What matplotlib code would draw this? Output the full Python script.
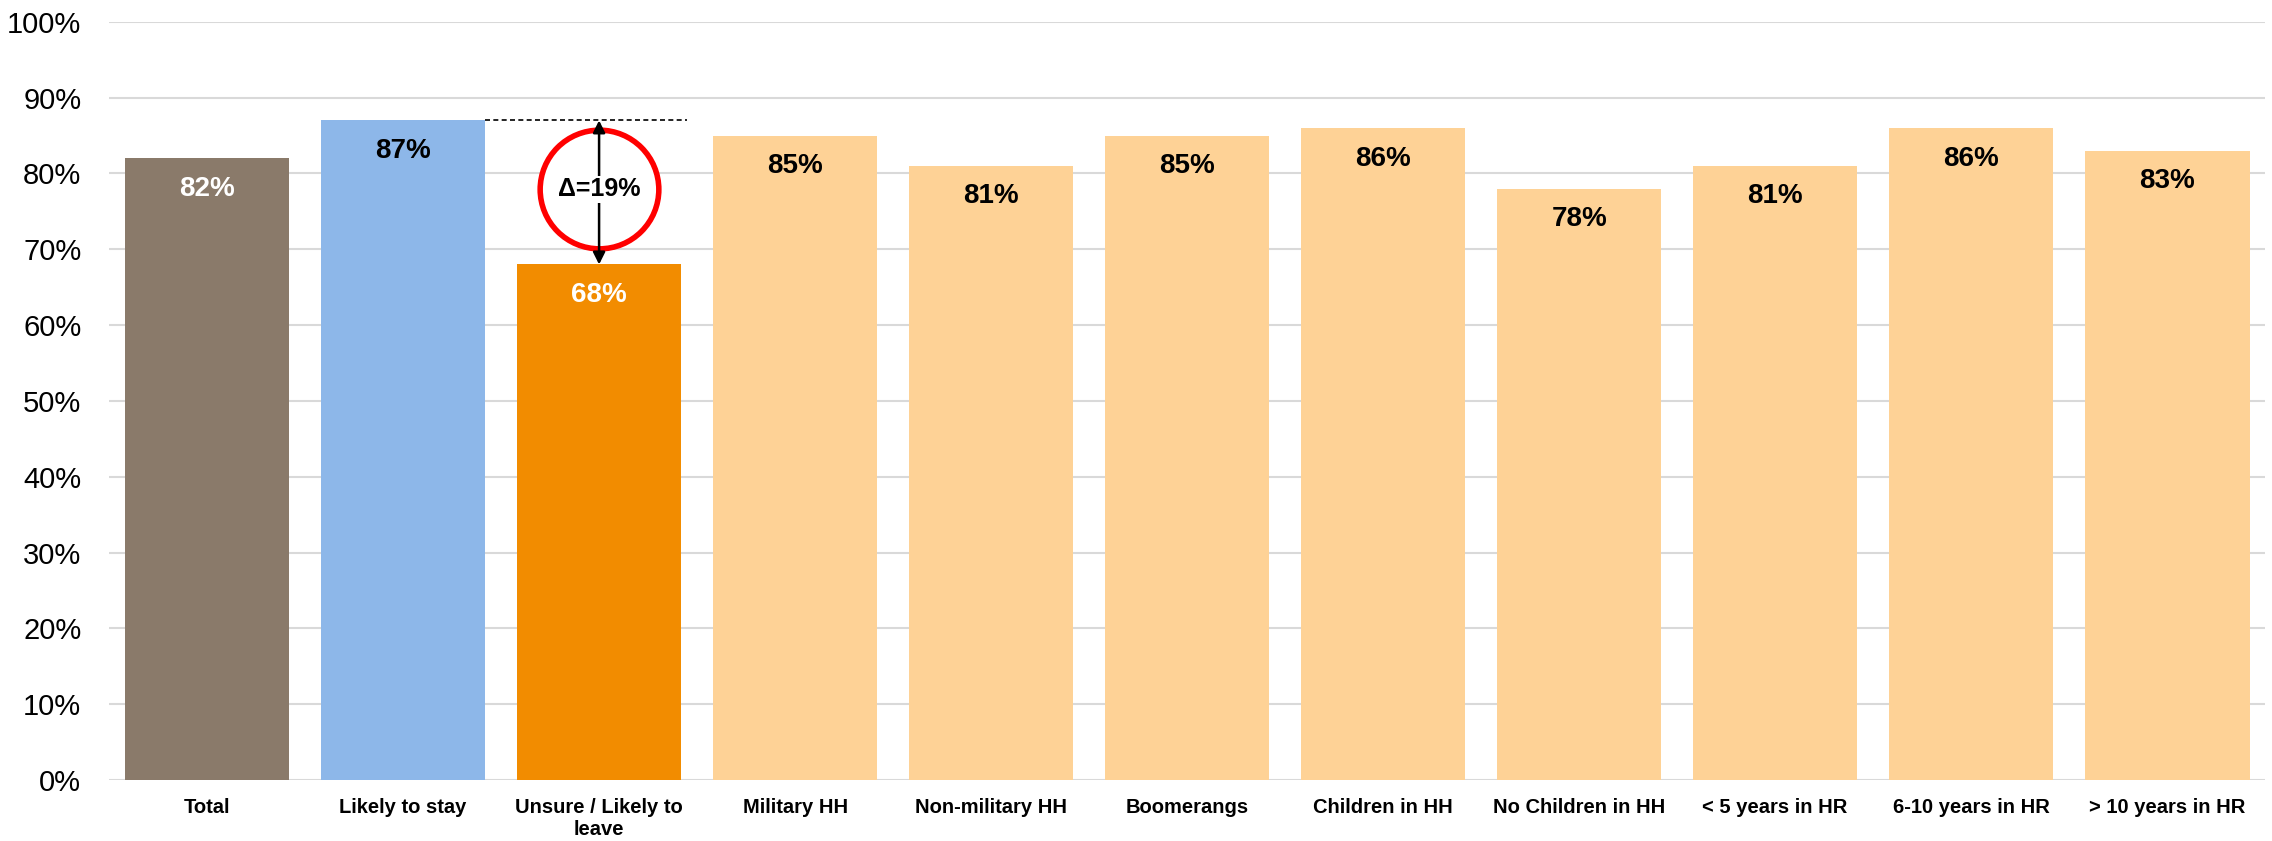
import matplotlib.pyplot as plt
from matplotlib.ticker import PercentFormatter

# survey groups and the share for each
categories = ["Total", "Likely to stay", "Unsure / Likely to\nleave", "Military HH",
              "Non-military HH", "Boomerangs", "Children in HH", "No Children in HH",
              "< 5 years in HR", "6-10 years in HR", "> 10 years in HR"]
values = [82, 87, 68, 85, 81, 85, 86, 78, 81, 86, 83]
bar_colors = ["#8A7A6A", "#8DB7E9", "#F28C00"] + ["#FED296"] * 8
label_colors = ["white", "black", "white"] + ["black"] * 8

plt.rcParams['font.family'] = ['Liberation Sans', 'DejaVu Sans']

fig = plt.figure(figsize=(22.72, 8.41), dpi=100)
ax = fig.add_axes([0.048, 0.0725, 0.949, 0.9015])

x = list(range(len(values)))
ax.bar(x, values, width=0.84, color=bar_colors, zorder=2)

for xi, v, c in zip(x, values, label_colors):
    ax.annotate(f"{v}%", (xi, v), xytext=(0, -22), textcoords="offset points",
                ha="center", va="center", fontsize=20, fontweight="bold", color=c, zorder=5)

# gap between stayers and leavers
stay, leave = values[1], values[2]
ax.plot([1.42, 2.45], [stay, stay], ls=(0, (3, 2)), color="black", lw=1.2, zorder=3)
ax.scatter([2], [(stay + leave) / 2 + 0.4], s=7300, facecolor="white",
           edgecolor="#FF0000", linewidth=4, zorder=3)
ax.annotate("", xy=(2, leave), xytext=(2, stay),
            arrowprops=dict(arrowstyle="<|-|>", color="black", lw=1.8,
                            mutation_scale=18, shrinkA=0, shrinkB=0), zorder=4)
ax.text(2, (stay + leave) / 2 + 0.4, f"Δ={stay - leave}%", ha="center", va="center",
        fontsize=18, fontweight="bold", zorder=5,
        bbox=dict(facecolor="white", edgecolor="none", pad=1))

ax.set_xlim(-0.5, 10.5)
ax.set_ylim(0, 100)
ax.set_yticks(range(0, 101, 10))
ax.yaxis.set_major_formatter(PercentFormatter(decimals=0))
ax.set_xticks(x)
ax.set_xticklabels(categories, fontsize=14.5, fontweight="bold")
ax.tick_params(axis="y", length=0, labelsize=21, pad=20)
ax.tick_params(axis="x", length=0, pad=13)
ax.grid(axis="y", color="#D9D9D9", lw=1.5, zorder=0)
ax.set_axisbelow(True)
for s in ax.spines.values():
    s.set_visible(False)

plt.savefig("out.png", dpi=100)
